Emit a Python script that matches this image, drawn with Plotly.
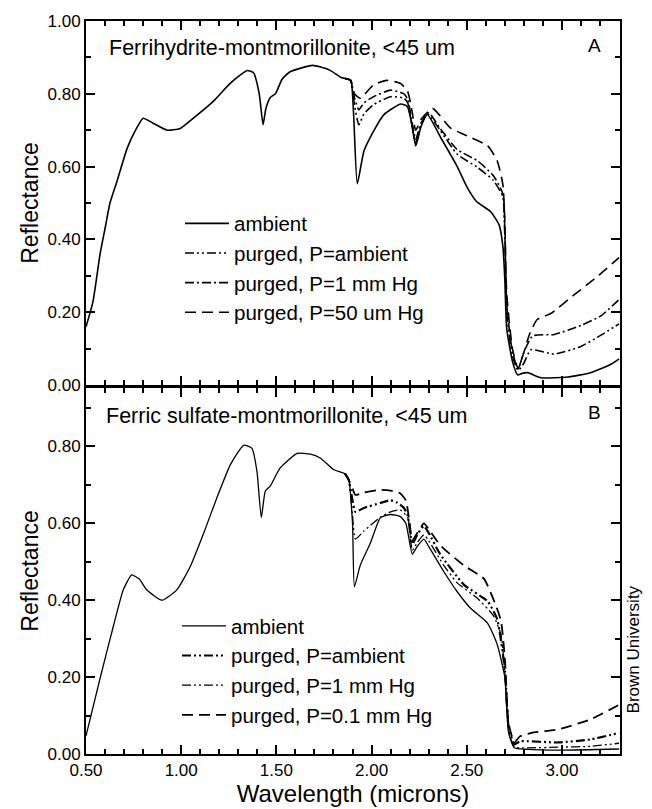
import plotly.graph_objects as go

# ---------------- Panel A: Ferrihydrite-montmorillonite ----------------
wl_a_ambient = [0.50, 0.537, 0.574, 0.60, 0.626, 0.663, 0.716, 0.76, 0.80, 0.85, 0.926, 0.995,
                1.08, 1.17, 1.26, 1.347, 1.38, 1.41, 1.43, 1.445, 1.468, 1.495, 1.53, 1.57,
                1.69, 1.78, 1.84, 1.89, 1.905, 1.925, 1.96, 2.01, 2.065, 2.153, 2.188, 2.21,
                2.232, 2.26, 2.293, 2.363, 2.45, 2.50, 2.55, 2.626, 2.67, 2.69, 2.70, 2.71,
                2.74, 2.767, 2.79, 2.82, 2.89, 3.03, 3.15, 3.26, 3.30]
r_a_ambient = [0.16, 0.23, 0.36, 0.43, 0.50, 0.56, 0.65, 0.70, 0.733, 0.72, 0.70, 0.705,
               0.74, 0.78, 0.83, 0.864, 0.858, 0.80, 0.715, 0.76, 0.79, 0.80, 0.84, 0.86,
               0.878, 0.865, 0.845, 0.837, 0.75, 0.553, 0.643, 0.697, 0.743, 0.772, 0.765, 0.72,
               0.657, 0.71, 0.743, 0.68, 0.60, 0.545, 0.505, 0.476, 0.44, 0.38, 0.29, 0.155,
               0.065, 0.028, 0.032, 0.034, 0.02, 0.022, 0.034, 0.058, 0.072]

wl_a_p_amb = [1.86, 1.89, 1.91, 1.933, 1.96, 2.01, 2.10, 2.17, 2.19, 2.21, 2.232, 2.26, 2.293,
              2.36, 2.45, 2.556, 2.64, 2.69, 2.70, 2.71, 2.74, 2.77, 2.80, 2.837, 2.96, 3.10,
              3.205, 3.30]
r_a_p_amb = [0.842, 0.837, 0.77, 0.715, 0.745, 0.77, 0.792, 0.788, 0.775, 0.72, 0.665, 0.715,
             0.745, 0.70, 0.634, 0.598, 0.562, 0.517, 0.40, 0.20, 0.08, 0.04, 0.06, 0.097,
             0.085, 0.106, 0.137, 0.168]

wl_a_1mm = [1.86, 1.89, 1.91, 1.933, 1.96, 2.01, 2.10, 2.17, 2.19, 2.21, 2.232, 2.26, 2.30,
            2.36, 2.45, 2.556, 2.64, 2.69, 2.70, 2.71, 2.74, 2.77, 2.80, 2.846, 2.96, 3.10,
            3.205, 3.30]
r_a_1mm = [0.842, 0.837, 0.79, 0.756, 0.775, 0.792, 0.81, 0.80, 0.785, 0.73, 0.675, 0.72,
           0.748, 0.705, 0.647, 0.616, 0.575, 0.525, 0.42, 0.22, 0.09, 0.045, 0.09, 0.135,
           0.139, 0.164, 0.19, 0.235]

wl_a_50um = [1.86, 1.89, 1.91, 1.94, 2.01, 2.08, 2.153, 2.19, 2.21, 2.232, 2.26, 2.32, 2.415,
             2.486, 2.61, 2.66, 2.69, 2.70, 2.71, 2.74, 2.77, 2.80, 2.83, 2.87, 2.94, 3.06,
             3.19, 3.30]
r_a_50um = [0.842, 0.837, 0.80, 0.788, 0.824, 0.837, 0.828, 0.806, 0.76, 0.70, 0.73, 0.76, 0.706,
            0.688, 0.657, 0.616, 0.55, 0.45, 0.25, 0.10, 0.045, 0.09, 0.14, 0.18, 0.196, 0.246,
            0.30, 0.35]

# ---------------- Panel B: Ferric sulfate-montmorillonite ----------------
wl_b_ambient = [0.50, 0.574, 0.644, 0.696, 0.74, 0.78, 0.819, 0.898, 0.977, 1.047, 1.117, 1.188,
                1.258, 1.328, 1.372, 1.398, 1.421, 1.442, 1.468, 1.52, 1.609, 1.679, 1.73, 1.80,
                1.855, 1.88, 1.90, 1.91, 1.94, 1.995, 2.047, 2.10, 2.15, 2.18, 2.214, 2.24,
                2.275, 2.30, 2.38, 2.45, 2.52, 2.61, 2.66, 2.70, 2.72, 2.75, 2.82, 3.00, 3.30]
r_b_ambient = [0.047, 0.197, 0.333, 0.427, 0.466, 0.455, 0.427, 0.40, 0.427, 0.487, 0.573, 0.667,
               0.752, 0.803, 0.795, 0.735, 0.615, 0.684, 0.697, 0.744, 0.782, 0.78, 0.77, 0.74,
               0.73, 0.713, 0.60, 0.435, 0.49, 0.55, 0.615, 0.623, 0.618, 0.60, 0.52, 0.54,
               0.559, 0.54, 0.474, 0.422, 0.379, 0.340, 0.285, 0.20, 0.055, 0.016, 0.012, 0.01,
               0.013]

wl_b_p_amb = [1.86, 1.88, 1.90, 1.915, 1.96, 2.047, 2.10, 2.13, 2.17, 2.19, 2.214, 2.24, 2.275,
              2.30, 2.36, 2.486, 2.61, 2.66, 2.70, 2.72, 2.75, 2.78, 2.98, 3.15, 3.30]
r_b_p_amb = [0.73, 0.713, 0.66, 0.63, 0.64, 0.653, 0.66, 0.655, 0.64, 0.62, 0.546, 0.57, 0.593,
             0.575, 0.52, 0.44, 0.397, 0.35, 0.22, 0.07, 0.025, 0.033, 0.03, 0.038, 0.055]

wl_b_1mm = [1.86, 1.88, 1.90, 1.915, 1.96, 2.047, 2.10, 2.15, 2.19, 2.214, 2.24, 2.275, 2.30,
            2.38, 2.45, 2.556, 2.64, 2.68, 2.70, 2.72, 2.75, 2.80, 3.00, 3.15, 3.30]
r_b_1mm = [0.73, 0.713, 0.62, 0.559, 0.58, 0.616, 0.63, 0.635, 0.615, 0.53, 0.55, 0.57, 0.555,
           0.49, 0.445, 0.405, 0.36, 0.31, 0.21, 0.06, 0.018, 0.016, 0.018, 0.02, 0.028]

wl_b_01mm = [1.86, 1.88, 1.90, 1.915, 1.96, 2.047, 2.10, 2.15, 2.18, 2.20, 2.214, 2.24, 2.275,
             2.30, 2.363, 2.486, 2.59, 2.65, 2.68, 2.70, 2.72, 2.75, 2.78, 2.84, 2.98, 3.15, 3.30]
r_b_01mm = [0.73, 0.713, 0.69, 0.674, 0.68, 0.687, 0.685, 0.678, 0.66, 0.60, 0.555, 0.575, 0.60,
            0.585, 0.542, 0.49, 0.456, 0.39, 0.346, 0.25, 0.08, 0.03, 0.046, 0.055, 0.064, 0.09,
            0.128]

labels_a = ["ambient", "purged, P=ambient", "purged, P=1 mm Hg", "purged, P=50 um Hg"]
labels_b = ["ambient", "purged, P=ambient", "purged, P=1 mm Hg", "purged, P=0.1 mm Hg"]
x_ticks = [0.5, 1.0, 1.5, 2.0, 2.5, 3.0]
y_ticks_a = [0.0, 0.2, 0.4, 0.6, 0.8, 1.0]
y_ticks_b = [0.0, 0.2, 0.4, 0.6, 0.8]

FONT = "Liberation Sans, Arial, Helvetica, sans-serif"
DASH_DDOT = "9px,3px,2px,3px,2px,3px"
DASH_DOT = "9px,3px,2px,3px"
DASH_LONG = "11px,6px"

series_a = [(wl_a_ambient, r_a_ambient, "solid", 1.6),
            (wl_a_p_amb, r_a_p_amb, DASH_DDOT, 1.6),
            (wl_a_1mm, r_a_1mm, DASH_DOT, 1.6),
            (wl_a_50um, r_a_50um, DASH_LONG, 1.6)]
series_b = [(wl_b_ambient, r_b_ambient, "solid", 1.3),
            (wl_b_p_amb, r_b_p_amb, DASH_DDOT, 2.2),
            (wl_b_1mm, r_b_1mm, DASH_DDOT, 1.3),
            (wl_b_01mm, r_b_01mm, DASH_LONG, 1.8)]

fig = go.Figure()
for i, ((xs, ys, dash, w), name) in enumerate(zip(series_a, labels_a)):
    fig.add_trace(go.Scatter(x=xs, y=ys, mode="lines", name=name, xaxis="x", yaxis="y",
                             line=dict(color="black", width=w, dash=dash, shape="spline",
                                       smoothing=0.5),
                             legend="legend", legendgroup=f"a{i}"))
for i, ((xs, ys, dash, w), name) in enumerate(zip(series_b, labels_b)):
    fig.add_trace(go.Scatter(x=xs, y=ys, mode="lines", name=name, xaxis="x2", yaxis="y2",
                             line=dict(color="black", width=w, dash=dash, shape="spline",
                                       smoothing=0.5),
                             legend="legend2", legendgroup=f"b{i}"))

W, H = 652, 809
ML, MR, MT, MB = 86, 32, 15, 51
PW = W - ML - MR
PH = H - MT - MB


def px(x):
    return (x - ML) / PW


def py(y):
    return (H - MB - y) / PH


axis_common = dict(showline=True, linecolor="black", linewidth=2, mirror="ticks",
                   ticks="inside", ticklen=9, tickwidth=1.5, tickcolor="black",
                   showgrid=False, zeroline=False,
                   tickfont=dict(family=FONT, size=17, color="black"))

fig.update_layout(
    width=W, height=H,
    margin=dict(l=ML, r=MR, t=MT, b=MB),
    paper_bgcolor="white", plot_bgcolor="white",
    font=dict(family=FONT, color="black"),
    xaxis=dict(domain=[0, 1], anchor="y", range=[0.5, 3.305], tickvals=x_ticks,
               showticklabels=False,
               minor=dict(ticks="inside", ticklen=5, dtick=0.1, tickcolor="black"),
               **axis_common),
    yaxis=dict(domain=[py(384), 1], anchor="x", range=[0, 1.0], tickvals=y_ticks_a,
               tickformat=".2f",
               minor=dict(ticks="inside", ticklen=5, dtick=0.1, tickcolor="black"),
               title=dict(text="Reflectance", font=dict(family=FONT, size=23), standoff=2),
               **axis_common),
    xaxis2=dict(domain=[0, 1], anchor="y2", matches="x", range=[0.5, 3.305], tickvals=x_ticks,
                tickformat=".2f",
                minor=dict(ticks="inside", ticklen=5, dtick=0.1, tickcolor="black"),
                title=dict(text="Wavelength (microns)", font=dict(family=FONT, size=24),
                           standoff=0),
                **axis_common),
    yaxis2=dict(domain=[0, py(387)], anchor="x2", range=[0, 0.952], tickvals=y_ticks_b,
                tickformat=".2f",
                minor=dict(ticks="inside", ticklen=5, dtick=0.1, tickcolor="black"),
                title=dict(text="Reflectance", font=dict(family=FONT, size=23), standoff=2),
                **axis_common),
    legend=dict(x=px(180), y=py(200), xanchor="left", yanchor="top",
                bgcolor="rgba(0,0,0,0)", font=dict(family=FONT, size=20.5, color="black"),
                tracegroupgap=4.5, itemwidth=44, traceorder="normal"),
    legend2=dict(x=px(177), y=py(608), xanchor="left", yanchor="top",
                 bgcolor="rgba(0,0,0,0)", font=dict(family=FONT, size=20.5, color="black"),
                 tracegroupgap=4.5, itemwidth=44, traceorder="normal"),
    showlegend=True,
)

annots = [
    dict(text="Ferrihydrite-montmorillonite, <45 um", x=px(107), y=py(42), xanchor="left",
         yanchor="middle", font=dict(size=21.5)),
    dict(text="A", x=px(594), y=py(40), xanchor="center", yanchor="middle", font=dict(size=19)),
    dict(text="Ferric sulfate-montmorillonite, <45 um", x=px(104), y=py(415), xanchor="left",
         yanchor="middle", font=dict(size=21.5)),
    dict(text="B", x=px(594), y=py(412), xanchor="center", yanchor="middle", font=dict(size=19)),
    dict(text="Brown University", x=px(633), y=py(652), xanchor="center", yanchor="middle",
         textangle=-90, font=dict(size=17)),
]
for a in annots:
    a.update(xref="paper", yref="paper", showarrow=False)
    a["font"].update(family=FONT, color="black")
    fig.add_annotation(**a)

fig.write_html("out.html", config={"displayModeBar": False},
               post_script="document.body.style.margin='0';document.body.style.overflow='hidden';")
